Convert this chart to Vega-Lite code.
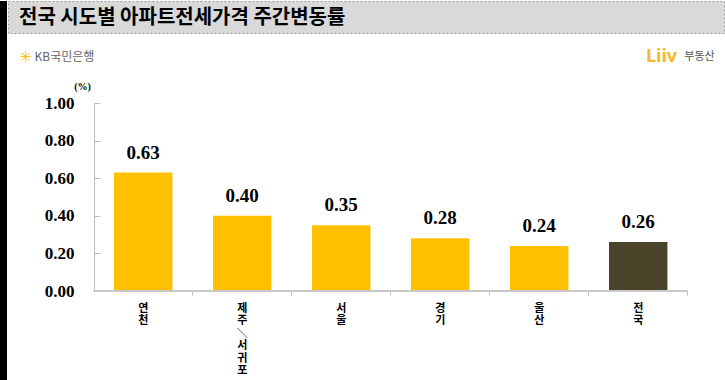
{
  "$schema": "https://vega.github.io/schema/vega-lite/v6.json",
  "padding": 0,
  "background": "white",
  "config": {"view": {"stroke": null}},
  "datasets": {
    "rates": [
      {"region": "연천", "value": 0.63, "group": "지역"},
      {"region": "제주/서귀포", "value": 0.40, "group": "지역"},
      {"region": "서울", "value": 0.35, "group": "지역"},
      {"region": "경기", "value": 0.28, "group": "지역"},
      {"region": "울산", "value": 0.24, "group": "지역"},
      {"region": "전국", "value": 0.26, "group": "전국"}
    ],
    "one": [{"k": 1}]
  },
  "hconcat": [
    {
      "data": {"name": "one"},
      "width": 7,
      "height": 380,
      "view": {"fill": "black", "stroke": null},
      "mark": {"type": "point", "size": 0, "opacity": 0, "strokeWidth": 0}
    },
    {
      "vconcat": [
        {
          "data": {"name": "one"},
          "width": 716,
          "height": 32,
          "view": {"fill": "#D9D9D9", "stroke": "#9A9A9A", "strokeDash": [2, 2], "strokeWidth": 1},
          "title": {
            "text": "전국 시도별 아파트전세가격 주간변동률",
            "anchor": "start",
            "frame": "group",
            "orient": "top",
            "offset": -27,
            "dx": 11,
            "font": "Noto Sans CJK KR",
            "fontSize": 20,
            "fontWeight": "bold",
            "color": "black"
          },
          "mark": {"type": "point", "size": 0, "opacity": 0, "strokeWidth": 0},
          "encoding": {
            "x": {
              "datum": 0,
              "type": "quantitative",
              "scale": {"domain": [0, 1]},
              "axis": {
                "labels": false,
                "ticks": false,
                "domain": false,
                "grid": false,
                "title": "✳",
                "titleX": 17,
                "titleY": 23,
                "titleAngle": 0,
                "titleAlign": "center",
                "titleBaseline": "middle",
                "titleFont": "DejaVu Sans",
                "titleFontSize": 15,
                "titleFontWeight": "bold",
                "titleColor": "#FFBC00"
              }
            }
          }
        },
        {
          "data": {"name": "rates"},
          "width": 716,
          "height": 188,
          "layer": [
            {
              "mark": {"type": "bar"},
              "encoding": {
                "x": {
                  "field": "region",
                  "type": "nominal",
                  "sort": null,
                  "scale": {
                    "domain": ["연천", "제주/서귀포", "서울", "경기", "울산", "전국"],
                    "paddingInner": 0.41,
                    "paddingOuter": 0.821,
                    "align": 0.652
                  },
                  "axis": {
                    "orient": "bottom",
                    "domain": false,
                    "labelAngle": 0,
                    "labelExpr": "split(replace(datum.label, '/', '＼'), '')",
                    "labelFont": "Noto Sans CJK KR",
                    "labelFontWeight": "bold",
                    "labelFontSize": 11,
                    "labelLineHeight": 12.5,
                    "labelBaseline": "top",
                    "labelColor": "black",
                    "labelPadding": 7,
                    "tickSize": 4,
                    "bandPosition": 1.348,
                    "tickColor": "#BFBFBF",
                    "title": "부동산",
                    "titleX": 691,
                    "titleY": -235,
                    "titleAngle": 0,
                    "titleAlign": "center",
                    "titleBaseline": "middle",
                    "titleFont": "Noto Sans CJK KR",
                    "titleFontSize": 11,
                    "titleFontWeight": "normal",
                    "titleColor": "#555555"
                  }
                },
                "y": {
                  "field": "value",
                  "type": "quantitative",
                  "scale": {"domain": [0, 1], "nice": false},
                  "axis": {
                    "orient": "left",
                    "offset": -86,
                    "values": [0, 0.2, 0.4, 0.6, 0.8, 1.0],
                    "format": ".2f",
                    "grid": false,
                    "labelFont": "Liberation Serif",
                    "labelFontSize": 17,
                    "labelFontWeight": "bold",
                    "labelColor": "black",
                    "labelPadding": 26,
                    "tickSize": -6,
                    "tickColor": "#BFBFBF",
                    "domainColor": "#BFBFBF",
                    "title": "(%)",
                    "titleAngle": 0,
                    "titleX": -12,
                    "titleY": -17,
                    "titleAlign": "center",
                    "titleBaseline": "middle",
                    "titleFont": "Liberation Serif",
                    "titleFontSize": 10,
                    "titleFontWeight": "bold",
                    "titleColor": "black"
                  }
                },
                "color": {
                  "field": "group",
                  "type": "nominal",
                  "scale": {"domain": ["지역", "전국"], "range": ["#FFC000", "#4A452A"]},
                  "legend": null
                }
              }
            },
            {
              "mark": {
                "type": "text",
                "baseline": "bottom",
                "dy": -10,
                "font": "Liberation Serif",
                "fontSize": 19,
                "fontWeight": "bold",
                "color": "black"
              },
              "encoding": {
                "x": {
                  "field": "region",
                  "type": "nominal",
                  "sort": null,
                  "axis": {
                    "orient": "top",
                    "labels": false,
                    "ticks": false,
                    "domain": false,
                    "title": "KB국민은행",
                    "titleX": 26,
                    "titleY": -47,
                    "titleAngle": 0,
                    "titleAlign": "left",
                    "titleBaseline": "middle",
                    "titleFont": "Noto Sans CJK KR",
                    "titleFontSize": 12,
                    "titleFontWeight": "normal",
                    "titleColor": "#666666"
                  }
                },
                "y": {
                  "field": "value",
                  "type": "quantitative",
                  "axis": {
                    "orient": "right",
                    "labels": false,
                    "ticks": false,
                    "domain": false,
                    "grid": false,
                    "title": "Liiv",
                    "titleX": -63,
                    "titleY": -47,
                    "titleAngle": 0,
                    "titleAlign": "center",
                    "titleBaseline": "middle",
                    "titleFont": "Noto Sans",
                    "titleFontSize": 18,
                    "titleFontWeight": "bold",
                    "titleColor": "#F8B62D"
                  }
                },
                "text": {"field": "value", "type": "quantitative", "format": ".2f"}
              }
            },
            {
              "mark": {"type": "rule", "color": "#C8C8C8", "strokeWidth": 1},
              "encoding": {
                "x": {"datum": "연천", "bandPosition": -0.348, "axis": null},
                "x2": {"datum": "전국", "bandPosition": 1.348},
                "y": {"datum": 0, "axis": null}
              }
            }
          ],
          "resolve": {"axis": {"x": "independent", "y": "independent"}}
        }
      ],
      "spacing": 70,
      "bounds": "flush"
    },
    {
      "data": {"name": "one"},
      "width": 2,
      "height": 380,
      "view": {"fill": "black", "stroke": null},
      "mark": {"type": "point", "size": 0, "opacity": 0, "strokeWidth": 0}
    }
  ],
  "spacing": 0,
  "bounds": "full"
}
